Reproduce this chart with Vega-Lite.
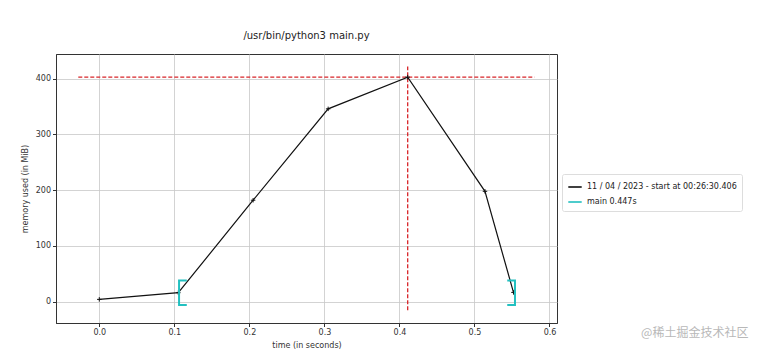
{
  "$schema": "https://vega.github.io/schema/vega-lite/v6.json",
  "width": 501,
  "height": 269,
  "autosize": {"type": "none"},
  "padding": {"left": 56, "top": 54, "right": 210, "bottom": 35},
  "background": "white",
  "title": {"text": "/usr/bin/python3 main.py", "font": "DejaVu Sans", "fontSize": 10, "fontWeight": "normal", "color": "#222", "anchor": "middle", "offset": 13},
  "config": {
    "view": {"stroke": "#333", "strokeWidth": 1},
    "axis": {"labelFont": "DejaVu Sans", "labelFontSize": 8, "labelColor": "#333", "titleFont": "DejaVu Sans", "titleFontSize": 8, "titleFontWeight": "normal", "titleColor": "#333", "tickColor": "#333", "tickSize": 3.5, "domainColor": "#333", "gridColor": "#c8c8c8", "gridWidth": 0.8, "labelPadding": 2},
    "legend": {"labelFont": "DejaVu Sans", "labelFontSize": 8, "labelColor": "#222"}
  },
  "datasets": {
    "mem": [
      {"t": 0.0, "mem": 4, "series": "11 / 04 / 2023 - start at 00:26:30.406"},
      {"t": 0.1053, "mem": 16, "series": "11 / 04 / 2023 - start at 00:26:30.406"},
      {"t": 0.205, "mem": 182, "series": "11 / 04 / 2023 - start at 00:26:30.406"},
      {"t": 0.305, "mem": 346, "series": "11 / 04 / 2023 - start at 00:26:30.406"},
      {"t": 0.411, "mem": 403, "series": "11 / 04 / 2023 - start at 00:26:30.406"},
      {"t": 0.514, "mem": 198, "series": "11 / 04 / 2023 - start at 00:26:30.406"},
      {"t": 0.552, "mem": 16.5, "series": "11 / 04 / 2023 - start at 00:26:30.406"}
    ],
    "brackets": [
      {"t": 0.1166, "mem": 38, "bracket": "open", "ord": 1, "series": "main 0.447s"},
      {"t": 0.1063, "mem": 38, "bracket": "open", "ord": 2, "series": "main 0.447s"},
      {"t": 0.1063, "mem": -6, "bracket": "open", "ord": 3, "series": "main 0.447s"},
      {"t": 0.1166, "mem": -6, "bracket": "open", "ord": 4, "series": "main 0.447s"},
      {"t": 0.5437, "mem": 38, "bracket": "close", "ord": 1, "series": "main 0.447s"},
      {"t": 0.554, "mem": 38, "bracket": "close", "ord": 2, "series": "main 0.447s"},
      {"t": 0.554, "mem": -6, "bracket": "close", "ord": 3, "series": "main 0.447s"},
      {"t": 0.5437, "mem": -6, "bracket": "close", "ord": 4, "series": "main 0.447s"}
    ],
    "hpeak": [{"t1": -0.028, "t2": 0.58, "mem": 403}],
    "vpeak": [{"t": 0.411, "m1": -15.6, "m2": 422}],
    "mark": [{"label": "@稀土掘金技术社区", "t": 0.722, "mem": -57}]
  },
  "layer": [
    {
      "data": {"name": "hpeak"},
      "mark": {"type": "rule", "color": "#d8262a", "strokeDash": [4, 2], "strokeWidth": 1.3},
      "encoding": {
        "x": {"field": "t1", "type": "quantitative", "scale": {"domain": [-0.0577, 0.61], "nice": false, "zero": false}, "axis": {"title": "time (in seconds)", "values": [0, 0.1, 0.2, 0.3, 0.4, 0.5, 0.6], "format": ".1f", "titlePadding": 5}},
        "x2": {"field": "t2"},
        "y": {"field": "mem", "type": "quantitative", "scale": {"domain": [-38.4, 444.5], "nice": false, "zero": false}, "axis": {"title": "memory used (in MiB)", "values": [0, 100, 200, 300, 400], "format": "d", "titlePadding": 6}}
      }
    },
    {
      "data": {"name": "vpeak"},
      "mark": {"type": "rule", "color": "#d8262a", "strokeDash": [4, 2], "strokeWidth": 1.3},
      "encoding": {
        "x": {"field": "t", "type": "quantitative"},
        "y": {"field": "m1", "type": "quantitative"},
        "y2": {"field": "m2"}
      }
    },
    {
      "data": {"name": "mem"},
      "mark": {"type": "line", "strokeWidth": 1.2},
      "encoding": {
        "x": {"field": "t", "type": "quantitative"},
        "y": {"field": "mem", "type": "quantitative"},
        "color": {"field": "series", "type": "nominal", "scale": {"domain": ["11 / 04 / 2023 - start at 00:26:30.406", "main 0.447s"], "range": ["#111111", "#22c0c0"]}, "legend": {"title": null, "orient": "none", "legendX": 506, "legendY": 120, "symbolType": "stroke", "symbolSize": 180, "symbolStrokeWidth": 1.6, "strokeColor": "#dddddd", "fillColor": "white", "padding": 5, "cornerRadius": 2, "rowPadding": 3}}
      }
    },
    {
      "data": {"name": "mem"},
      "mark": {"type": "point", "shape": "M-1,0H1M0,-1V1", "filled": false, "size": 20, "strokeWidth": 1, "color": "#111111", "opacity": 1},
      "encoding": {
        "x": {"field": "t", "type": "quantitative"},
        "y": {"field": "mem", "type": "quantitative"}
      }
    },
    {
      "data": {"name": "brackets"},
      "mark": {"type": "line", "strokeWidth": 2},
      "encoding": {
        "x": {"field": "t", "type": "quantitative"},
        "y": {"field": "mem", "type": "quantitative"},
        "detail": {"field": "bracket"},
        "order": {"field": "ord", "type": "quantitative"},
        "color": {"field": "series", "type": "nominal"}
      }
    },
    {
      "data": {"name": "mark"},
      "mark": {"type": "text", "align": "left", "baseline": "middle", "font": "Noto Sans CJK SC", "fontSize": 12, "color": "#b8b8b8"},
      "encoding": {
        "x": {"field": "t", "type": "quantitative"},
        "y": {"field": "mem", "type": "quantitative"},
        "text": {"field": "label"}
      }
    }
  ]
}
